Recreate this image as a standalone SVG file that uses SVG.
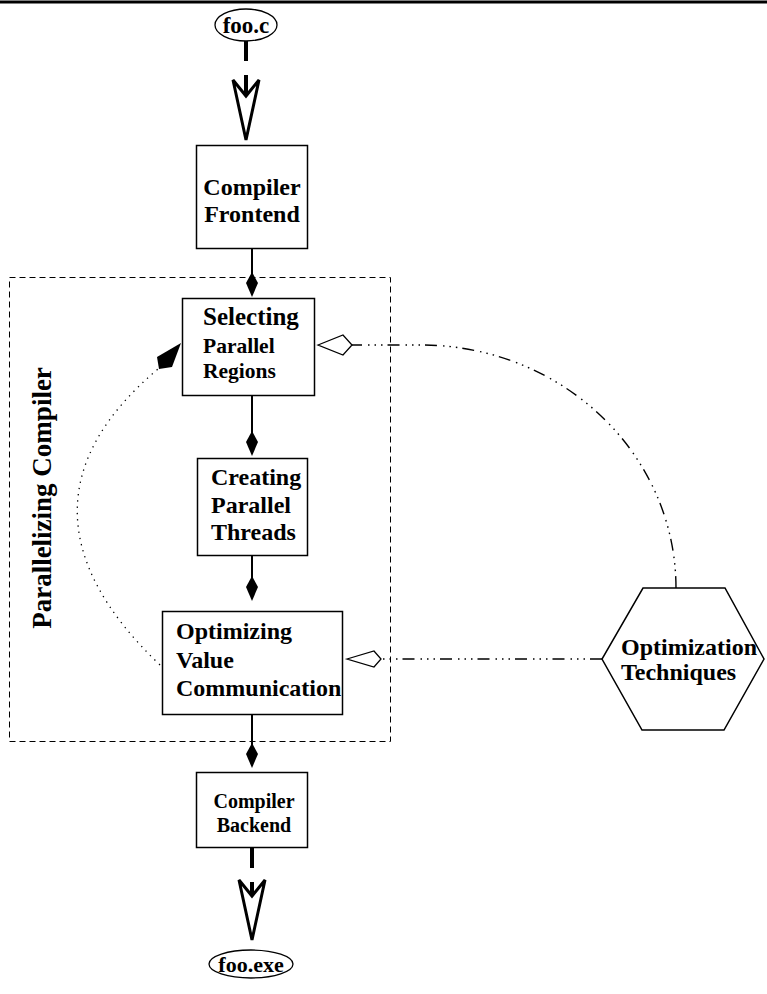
<svg xmlns="http://www.w3.org/2000/svg" width="767" height="994" viewBox="0 0 767 994">
  <style>
    .box { fill: #fff; stroke: #000; stroke-width: 1.5; }
    .lbl { font-family: "Liberation Serif", "Times New Roman", serif; font-weight: bold; fill: #000; }
    .flow { stroke: #000; stroke-width: 2; fill: none; }
    .thick { stroke: #000; stroke-width: 4; fill: none; stroke-dasharray: 20 14; }
    .open-arrow { fill: #fff; stroke: #000; stroke-width: 3; stroke-linejoin: miter; }
    .kite { fill: #000; stroke: none; }
    .hollow { fill: #fff; stroke: #000; stroke-width: 1.3; }
    .dashdot { stroke: #000; stroke-width: 1.4; fill: none; stroke-dasharray: 12 5 1.5 5 1.5 5 1.5 6; }
    .dotted { stroke: #000; stroke-width: 1.3; fill: none; stroke-dasharray: 1.3 5; }
  </style>

  <!-- page rule -->
  <line x1="0" y1="2" x2="767" y2="2" stroke="#000" stroke-width="3"/>

  <!-- parallelizing compiler container -->
  <g id="parallelizing-compiler">
    <rect x="9.5" y="277.5" width="381" height="464" fill="none" stroke="#000" stroke-width="1" stroke-dasharray="6 4"/>
    <text class="lbl" font-size="27" text-anchor="middle" transform="translate(51,498) rotate(-90)">Parallelizing Compiler</text>
  </g>

  <g id="connectors">
    <!-- foo.c to frontend -->
    <line class="thick" x1="246" y1="41" x2="246" y2="94"/>
    <polygon class="open-arrow" points="233,80 246,140 259,80 246,96"/>
    <!-- pipeline -->
    <line class="flow" x1="252" y1="249" x2="252" y2="275"/>
    <polygon class="kite" points="252,272 258,283 252,297 246,283"/>
    <line class="flow" x1="252" y1="396" x2="252" y2="434"/>
    <polygon class="kite" points="252,431 258,442 252,456 246,442"/>
    <line class="flow" x1="252" y1="556" x2="252" y2="579"/>
    <polygon class="kite" points="252,576 258,587 252,601 246,587"/>
    <line class="flow" x1="252" y1="715" x2="252" y2="746"/>
    <polygon class="kite" points="252,743 258,754 252,768 246,754"/>
    <!-- backend to foo.exe -->
    <line class="thick" x1="252" y1="848" x2="252" y2="896" stroke-dasharray="14 13"/>
    <polygon class="open-arrow" points="239,880 252,940 265,880 252,896"/>
    <!-- feedback loop -->
    <path class="dotted" d="M160,665 C50,560 50,460 158,369"/>
    <polygon class="kite" points="181,343 157,357 159,369 172,367"/>
    <!-- optimization techniques links -->
    <path class="dashdot" d="M676,588 A255,243 0 0 0 421,345 L352,345"/>
    <polygon class="hollow" points="318,345 343,335 352,345 343,355"/>
    <line class="dashdot" x1="602" y1="659" x2="381" y2="659"/>
    <polygon class="hollow" points="347,659 374,651 381,659 374,667"/>
  </g>

  <g id="foo-c">
    <ellipse cx="246" cy="25" rx="31" ry="16" fill="#fff" stroke="#000" stroke-width="1.3"/>
    <text class="lbl" font-size="23" x="246" y="33" text-anchor="middle">foo.c</text>
  </g>

  <g id="compiler-frontend">
    <rect class="box" x="196.5" y="145.5" width="111" height="103"/>
    <text class="lbl" font-size="24" x="252" y="195" text-anchor="middle">Compiler</text>
    <text class="lbl" font-size="24" x="252" y="222" text-anchor="middle">Frontend</text>
  </g>

  <g id="selecting-parallel-regions">
    <rect class="box" x="182.5" y="298.5" width="132" height="97"/>
    <text class="lbl" font-size="25" x="203" y="325">Selecting</text>
    <text class="lbl" font-size="21.5" x="203" y="353">Parallel</text>
    <text class="lbl" font-size="21.5" x="203" y="378">Regions</text>
  </g>

  <g id="creating-parallel-threads">
    <rect class="box" x="197.5" y="458.5" width="110" height="97"/>
    <text class="lbl" font-size="24" x="211" y="485">Creating</text>
    <text class="lbl" font-size="24" x="211" y="513">Parallel</text>
    <text class="lbl" font-size="24" x="211" y="540">Threads</text>
  </g>

  <g id="optimizing-value-communication">
    <rect class="box" x="162.5" y="611.5" width="180" height="103"/>
    <text class="lbl" font-size="24" x="176" y="639">Optimizing</text>
    <text class="lbl" font-size="24" x="176" y="668">Value</text>
    <text class="lbl" font-size="24" x="176" y="696">Communication</text>
  </g>

  <g id="compiler-backend">
    <rect class="box" x="196.5" y="772.5" width="111" height="75"/>
    <text class="lbl" font-size="20" x="254" y="808" text-anchor="middle">Compiler</text>
    <text class="lbl" font-size="20" x="254" y="832" text-anchor="middle">Backend</text>
  </g>

  <g id="foo-exe">
    <ellipse cx="251" cy="964" rx="42" ry="14" fill="#fff" stroke="#000" stroke-width="1.3"/>
    <text class="lbl" font-size="22" x="251" y="972" text-anchor="middle">foo.exe</text>
  </g>

  <g id="optimization-techniques">
    <polygon points="643,588 725,588 764,659 724,730 642,730 602,659" fill="#fff" stroke="#000" stroke-width="1.5"/>
    <text class="lbl" font-size="24" x="621" y="655">Optimization</text>
    <text class="lbl" font-size="24" x="621" y="680">Techniques</text>
  </g>
</svg>
